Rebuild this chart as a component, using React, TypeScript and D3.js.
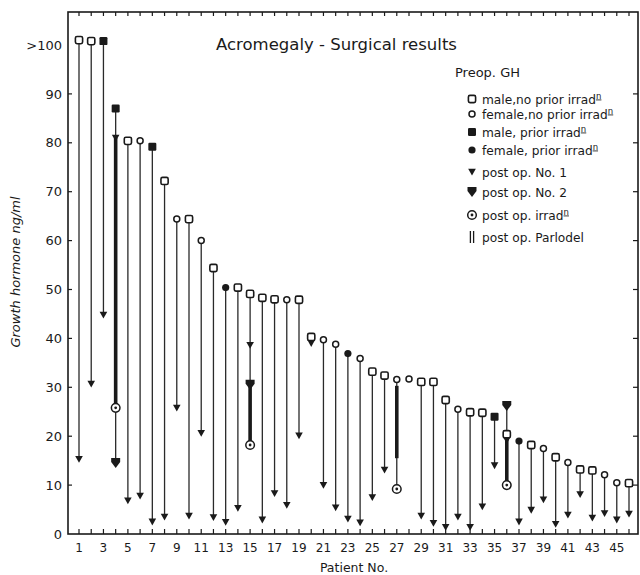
import React, { useEffect, useRef } from 'react';
import * as d3 from 'd3';

// patient numbers and pre-op growth hormone (ng/ml), >100 drawn at ~101
const patients = d3.range(1, 47);
const preopGH = [101, 100.8, 100.8, 87, 80.4, 80.4, 79.2, 72.2, 64.4, 64.4, 60, 54.4, 50.4, 50.4, 49.1, 48.3, 48, 47.9, 47.9, 40.3,
  39.7, 38.8, 36.9, 35.9, 33.2, 32.4, 31.6, 31.7, 31.1, 31.1, 27.4, 25.5, 24.9, 24.8, 24, 20.4, 19, 18.2, 17.5, 15.7,
  14.6, 13.2, 13, 12.1, 10.5, 10.4];
// m = male no prior irrad, f = female no prior irrad, M = male prior irrad, F = female prior irrad
const preopGroup = ['m', 'm', 'M', 'M', 'm', 'f', 'M', 'm', 'f', 'm', 'f', 'm', 'F', 'm', 'm', 'm', 'm', 'f', 'm', 'm',
  'f', 'f', 'F', 'f', 'm', 'm', 'f', 'f', 'm', 'm', 'm', 'f', 'm', 'm', 'M', 'm', 'F', 'm', 'f', 'm',
  'f', 'm', 'm', 'f', 'f', 'm'];
// post op. No. 1
const postOp1 = [15.3, 30.7, 44.8, 81, 6.8, 7.8, 2.5, 3.5, 25.8, 3.7, 20.6, 3.4, 2.4, 5.3, 38.6, 2.9, 8.3, 5.9, 20.1, 39,
  10, 5.4, 3.1, 2.3, 7.5, 13.1, null, null, 3.7, 2.2, 1.4, 3.5, 1.4, 5.6, 14, 19.2, 2.5, 4.9, 7.0, 2.0,
  3.9, 8.1, 3.3, 4.2, 2.9, 4.1];
// post op. No. 2
const postOp2Patients = [4, 15, 36];
const postOp2GH = [14.5, 30.5, 26.2];
// post op. Parlodel (thick segments)
const parlodelPatients = [4, 15, 27, 36];
const parlodelFrom = [81, 30.5, 30.3, 19.5];
const parlodelTo = [25.8, 18.2, 15.5, 10];
// post op. irrad
const irradPatients = [4, 15, 27, 36];
const irradGH = [25.8, 18.2, 9.2, 10];

const yTicks = [0, 10, 20, 30, 40, 50, 60, 70, 80, 90, 100];
const xLabels = d3.range(1, 46, 2);

const legendItems = [
  { sym: 'm', text: 'male,no prior irrad', sup: true },
  { sym: 'f', text: 'female,no prior irrad', sup: true },
  { sym: 'M', text: 'male, prior irrad', sup: true },
  { sym: 'F', text: 'female, prior irrad', sup: true },
  { sym: 'op1', text: 'post op. No. 1', sup: false },
  { sym: 'op2', text: 'post op. No. 2', sup: false },
  { sym: 'irr', text: 'post op. irrad', sup: true },
  { sym: 'par', text: 'post op.  Parlodel', sup: false },
];

const INK = '#1a1a1a';
const FONT = '"DejaVu Sans", sans-serif';

export default function App() {
  const svgRef = useRef<SVGSVGElement | null>(null);

  const width = 640;
  const height = 575;
  const frame = { left: 68, right: 638, top: 12, bottom: 534 };

  const x = d3.scaleLinear().domain([1, 46]).range([79, 629]);
  const y = d3.scaleLinear().domain([0, 100]).range([frame.bottom, 45]);

  useEffect(() => {
    const svg = d3.select(svgRef.current);
    svg.selectAll('*').remove();

    // marker helpers
    const drawSymbol = (g: any, sym: string, cx: number, cy: number) => {
      if (sym === 'm') {
        g.append('rect').attr('x', cx - 3.6).attr('y', cy - 3.6).attr('width', 7.2).attr('height', 7.2)
          .attr('rx', 1.6).attr('fill', '#fff').attr('stroke', INK).attr('stroke-width', 1.6);
      } else if (sym === 'f') {
        g.append('circle').attr('cx', cx).attr('cy', cy).attr('r', 3)
          .attr('fill', '#fff').attr('stroke', INK).attr('stroke-width', 1.5);
      } else if (sym === 'M') {
        g.append('rect').attr('x', cx - 4).attr('y', cy - 4).attr('width', 8).attr('height', 8)
          .attr('rx', 1.2).attr('fill', INK);
      } else if (sym === 'F') {
        g.append('circle').attr('cx', cx).attr('cy', cy).attr('r', 3.6).attr('fill', INK);
      } else if (sym === 'op1') {
        g.append('path').attr('d', `M${cx - 3.8},${cy - 3.2} L${cx + 3.8},${cy - 3.2} L${cx},${cy + 3.6} Z`)
          .attr('fill', INK);
      } else if (sym === 'op2') {
        g.append('path')
          .attr('d', `M${cx - 4.5},${cy - 5} L${cx + 4.5},${cy - 5} L${cx + 4.5},${cy - 1} L${cx},${cy + 5} L${cx - 4.5},${cy - 1} Z`)
          .attr('fill', INK);
      } else if (sym === 'irr') {
        g.append('circle').attr('cx', cx).attr('cy', cy).attr('r', 4.3)
          .attr('fill', '#fff').attr('stroke', INK).attr('stroke-width', 1.5);
        g.append('circle').attr('cx', cx).attr('cy', cy).attr('r', 1.4).attr('fill', INK);
      } else if (sym === 'par') {
        g.append('line').attr('x1', cx - 1.6).attr('x2', cx - 1.6).attr('y1', cy - 6).attr('y2', cy + 6)
          .attr('stroke', INK).attr('stroke-width', 1.3);
        g.append('line').attr('x1', cx + 1.6).attr('x2', cx + 1.6).attr('y1', cy - 6).attr('y2', cy + 6)
          .attr('stroke', INK).attr('stroke-width', 1.3);
      }
    };

    // frame
    svg.append('rect')
      .attr('x', frame.left).attr('y', frame.top)
      .attr('width', frame.right - frame.left).attr('height', frame.bottom - frame.top)
      .attr('fill', 'none').attr('stroke', INK).attr('stroke-width', 1.6);

    // inward ticks, top and bottom at each patient
    const ticks = svg.append('g').attr('stroke', INK).attr('stroke-width', 1.2);
    patients.forEach(p => {
      ticks.append('line').attr('x1', x(p)).attr('x2', x(p)).attr('y1', frame.bottom).attr('y2', frame.bottom - 5);
      ticks.append('line').attr('x1', x(p)).attr('x2', x(p)).attr('y1', frame.top).attr('y2', frame.top + 4);
    });
    yTicks.slice(1, 10).forEach(v => {
      ticks.append('line').attr('x1', frame.left).attr('x2', frame.left + 4).attr('y1', y(v)).attr('y2', y(v));
      ticks.append('line').attr('x1', frame.right).attr('x2', frame.right - 5).attr('y1', y(v)).attr('y2', y(v));
    });

    // y tick labels
    const yl = svg.append('g').attr('font-family', FONT).attr('font-size', 13).attr('fill', INK)
      .attr('text-anchor', 'end');
    yTicks.forEach(v => {
      yl.append('text').attr('x', 62).attr('y', y(v)).attr('dy', '0.36em')
        .text(v === 100 ? '>100' : String(v));
    });

    // x tick labels
    const xl = svg.append('g').attr('font-family', FONT).attr('font-size', 12).attr('fill', INK)
      .attr('text-anchor', 'middle');
    xLabels.forEach(p => {
      xl.append('text').attr('x', x(p)).attr('y', 552).text(String(p));
    });

    // axis titles
    svg.append('text').attr('x', 354).attr('y', 572).attr('text-anchor', 'middle')
      .attr('font-family', FONT).attr('font-size', 12.5).attr('fill', INK).text('Patient No.');
    svg.append('text').attr('transform', 'translate(20,272) rotate(-90)').attr('text-anchor', 'middle')
      .attr('font-family', FONT).attr('font-size', 13).attr('font-style', 'italic').attr('fill', INK)
      .text('Growth hormone ng/ml');

    // chart title
    svg.append('text').attr('x', 216).attr('y', 50)
      .attr('font-family', FONT).attr('font-size', 16.5).attr('fill', INK)
      .text('Acromegaly - Surgical results');

    // thin stems from pre-op down to lowest post-op value
    const stems = svg.append('g').attr('stroke', '#2a2a2a').attr('stroke-width', 1.3);
    patients.forEach((p, i) => {
      const vals: number[] = [preopGH[i]];
      if (postOp1[i] != null) vals.push(postOp1[i] as number);
      postOp2Patients.forEach((q, j) => { if (q === p) vals.push(postOp2GH[j]); });
      irradPatients.forEach((q, j) => { if (q === p) vals.push(irradGH[j]); });
      if (vals.length < 2) return;
      stems.append('line').attr('x1', x(p)).attr('x2', x(p))
        .attr('y1', y(d3.max(vals) as number)).attr('y2', y(d3.min(vals) as number));
    });

    // Parlodel thick segments
    parlodelPatients.forEach((p, j) => {
      svg.append('line').attr('x1', x(p)).attr('x2', x(p))
        .attr('y1', y(parlodelFrom[j])).attr('y2', y(parlodelTo[j]))
        .attr('stroke', INK).attr('stroke-width', 3.6);
    });

    const marks = svg.append('g');
    patients.forEach((p, i) => {
      if (postOp1[i] != null) drawSymbol(marks, 'op1', x(p), y(postOp1[i] as number));
    });
    postOp2Patients.forEach((p, j) => drawSymbol(marks, 'op2', x(p), y(postOp2GH[j])));
    irradPatients.forEach((p, j) => drawSymbol(marks, 'irr', x(p), y(irradGH[j])));
    patients.forEach((p, i) => drawSymbol(marks, preopGroup[i], x(p), y(preopGH[i])));

    // legend
    const lg = svg.append('g').attr('font-family', FONT).attr('fill', INK);
    lg.append('text').attr('x', 455).attr('y', 77).attr('font-size', 13).text('Preop. GH');
    const rowY = [99, 114, 132, 150, 172, 192, 215, 237];
    legendItems.forEach((d, k) => {
      drawSymbol(lg, d.sym, 472, rowY[k]);
      const t = lg.append('text').attr('x', 482).attr('y', rowY[k] + 4.5).attr('font-size', 12.2).text(d.text);
      if (d.sup) {
        t.append('tspan').attr('dy', -5).attr('font-size', 8.5).attr('text-decoration', 'underline').text('n');
      }
    });
  });

  return (
    <svg ref={svgRef} width={width} height={height}
      style={{ position: 'absolute', left: 0, top: 0, background: '#fff' }} />
  );
}
